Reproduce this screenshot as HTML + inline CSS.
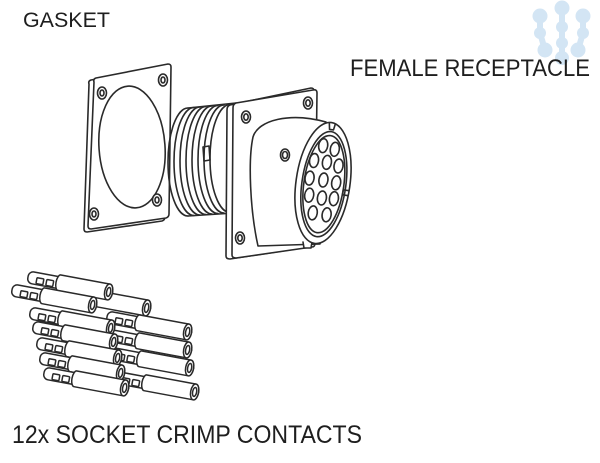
<!DOCTYPE html>
<html>
<head>
<meta charset="utf-8">
<style>
html,body{margin:0;padding:0;background:#fff;}
body{width:600px;height:463px;overflow:hidden;}
svg{display:block;}
text{font-family:"Liberation Sans",sans-serif;fill:#1e1e1e;}
</style>
</head>
<body>
<svg width="600" height="463" viewBox="0 0 600 463" xmlns="http://www.w3.org/2000/svg">
<defs>
  <g id="ct" stroke="#2a2a2a" stroke-width="1.5" fill="#fff" stroke-linejoin="round">
    <rect x="0" y="-6" width="36" height="12" rx="5"/>
    <rect x="9" y="-1" width="7" height="6" rx="1"/>
    <rect x="19" y="-1" width="7" height="6" rx="1"/>
    <path d="M32,-8 L82,-8 A4,8 0 0 1 82,8 L32,8 A3.5,8 0 0 1 32,-8 Z"/>
    <ellipse cx="82" cy="0" rx="4" ry="8"/>
    <ellipse cx="82" cy="0" rx="2" ry="4.5"/>
  </g>
</defs>

<!-- watermark logo -->
<g fill="#d3e5f4" stroke="#d3e5f4" stroke-width="6" stroke-linecap="round">
  <path d="M540,16 L540,33 L545,50" fill="none"/>
  <path d="M562,8 L562,27 L562,43 L562,57" fill="none"/>
  <path d="M583,16 L583,33 L578,50" fill="none"/>
  <circle cx="540" cy="16" r="7.5" stroke="none"/>
  <circle cx="562" cy="8" r="7.5" stroke="none"/>
  <circle cx="583" cy="16" r="7.5" stroke="none"/>
  <circle cx="540" cy="33" r="6" stroke="none"/>
  <circle cx="562" cy="27" r="6" stroke="none"/>
  <circle cx="583" cy="33" r="6" stroke="none"/>
  <circle cx="545" cy="50" r="7.5" stroke="none"/>
  <circle cx="562" cy="43" r="6" stroke="none"/>
  <circle cx="578" cy="50" r="7.5" stroke="none"/>
  <circle cx="562" cy="58" r="7" stroke="none"/>
</g>

<!-- labels -->
<text x="23" y="27" font-size="21" textLength="87" lengthAdjust="spacingAndGlyphs">GASKET</text>
<text x="350" y="76" font-size="24" textLength="240" lengthAdjust="spacingAndGlyphs">FEMALE RECEPTACLE</text>
<text x="12" y="443" font-size="25" textLength="350" lengthAdjust="spacingAndGlyphs">12x SOCKET CRIMP CONTACTS</text>

<g stroke="#2a2a2a" stroke-width="1.6" fill="#fff" stroke-linejoin="round" stroke-linecap="round">
  <!-- GASKET -->
  <path d="M89,84 Q88,81 91,80 L164,67 Q167,67 167,70 L165,217 Q165,220 162,221 L87,232 Q84,232 84,229 Z"/>
  <path d="M94,82 Q93,79 96,78 L168,64 Q171,64 171,67 L169,214 Q169,217 166,218 L91,229 Q88,229 88,226 Z"/>
  <ellipse cx="132" cy="147" rx="33" ry="61" transform="rotate(-4 132 147)"/>
  <ellipse cx="102" cy="93" rx="4.5" ry="6"/>
  <ellipse cx="102" cy="93" rx="2" ry="3"/>
  <ellipse cx="163" cy="80" rx="4.5" ry="6"/>
  <ellipse cx="163" cy="80" rx="2" ry="3"/>
  <ellipse cx="157" cy="200" rx="4.5" ry="6"/>
  <ellipse cx="157" cy="200" rx="2" ry="3"/>
  <ellipse cx="94" cy="214" rx="4.5" ry="6"/>
  <ellipse cx="94" cy="214" rx="2" ry="3"/>

  <!-- THREADED BARREL -->
  <path d="M188,108 L238,102 L238,214 L190,217 Z" stroke="none"/>
  <g fill="none">
    <path d="M188,108 A20,54 0 0 0 188,216"/>
    <path d="M194,107.5 A20,54 0 0 0 194,215.5"/>
    <path d="M200,107 A20,54 0 0 0 200,215"/>
    <path d="M206,106.5 A20,54 0 0 0 206,214.5"/>
    <path d="M212,106 A20,54 0 0 0 212,214"/>
    <path d="M218,105.5 A20,54 0 0 0 218,213.5"/>
    <path d="M224,105 A20,54 0 0 0 224,213"/>
    <path d="M230,104.5 A20,54 0 0 0 230,212.5"/>
    <path d="M188,108 L236,103"/>
    <path d="M188,216 L234,213"/>
    <path d="M203,147 L209,146 L210,160 L204,161 Z"/>
  </g>

  <!-- FLANGE -->
  <path d="M227,110 Q227,106 230,105 L311,88 Q314,88 314,91 L312,242 Q312,246 309,247 L230,259 Q226,259 226,256 Z"/>
  <path d="M233,108 Q233,104 236,103 L313,90 Q317,89 317,93 L315,243 Q315,247 312,247 L236,258 Q232,258 232,255 Z"/>
  <ellipse cx="246" cy="117" rx="4.5" ry="6"/>
  <ellipse cx="246" cy="117" rx="2.2" ry="3.2"/>
  <ellipse cx="308" cy="103" rx="4.5" ry="6"/>
  <ellipse cx="308" cy="103" rx="2.2" ry="3.2"/>
  <ellipse cx="240" cy="238" rx="4.5" ry="6"/>
  <ellipse cx="240" cy="238" rx="2.2" ry="3.2"/>

  <!-- BODY -->
  <path d="M258,246 C250,210 248,160 253,137 C258,120 290,112 326,122 L320,244 Z"/>
  <ellipse cx="285" cy="155" rx="4.5" ry="6"/>
  <ellipse cx="285" cy="155" rx="2.5" ry="3.5"/>
  <path d="M303,242 L304,248 L311,248 L312,242"/>

  <!-- FACE -->
  <g transform="translate(323,183) rotate(8)">
    <ellipse cx="0" cy="0" rx="27" ry="61"/>
    <ellipse cx="1" cy="1" rx="22" ry="53"/>
    <ellipse cx="1" cy="1" rx="20" ry="49"/>
    <path d="M-2,-60 L-1,-54 L3,-54 L4,-60" fill="none"/>
    <path d="M26,4 L21,4 L21,9 L26,9" fill="none"/>
    <g>
      <ellipse cx="-5" cy="-37" rx="4.5" ry="7"/>
      <ellipse cx="7" cy="-35" rx="4.5" ry="7"/>
      <ellipse cx="-12" cy="-21" rx="4.5" ry="7"/>
      <ellipse cx="1" cy="-21" rx="4.5" ry="7"/>
      <ellipse cx="13" cy="-19" rx="4.5" ry="7"/>
      <ellipse cx="-14" cy="-3" rx="4.5" ry="7"/>
      <ellipse cx="0" cy="-3" rx="4.5" ry="7"/>
      <ellipse cx="13" cy="-2" rx="4.5" ry="7"/>
      <ellipse cx="-12" cy="14" rx="4.5" ry="7"/>
      <ellipse cx="1" cy="15" rx="4.5" ry="7"/>
      <ellipse cx="13" cy="14" rx="4.5" ry="7"/>
      <ellipse cx="-6" cy="31" rx="4.5" ry="7"/>
      <ellipse cx="8" cy="31" rx="4.5" ry="7"/>
    </g>
  </g>
</g>

<!-- CONTACTS: right column (behind) -->
<use href="#ct" transform="translate(66,293) rotate(10.5)"/>
<use href="#ct" transform="translate(107,317) rotate(10.5)"/>
<use href="#ct" transform="translate(107,335) rotate(10.5)"/>
<use href="#ct" transform="translate(109,353) rotate(10.5)"/>
<use href="#ct" transform="translate(114,377) rotate(10.5)"/>
<!-- left column -->
<use href="#ct" transform="translate(28,277) rotate(10.5)"/>
<use href="#ct" transform="translate(12,290) rotate(10.5)"/>
<use href="#ct" transform="translate(30,313) rotate(10.5)"/>
<use href="#ct" transform="translate(33,327) rotate(10.5)"/>
<use href="#ct" transform="translate(37,343) rotate(10.5)"/>
<use href="#ct" transform="translate(40,358) rotate(10.5)"/>
<use href="#ct" transform="translate(44,373) rotate(10.5)"/>
</svg>
</body>
</html>
